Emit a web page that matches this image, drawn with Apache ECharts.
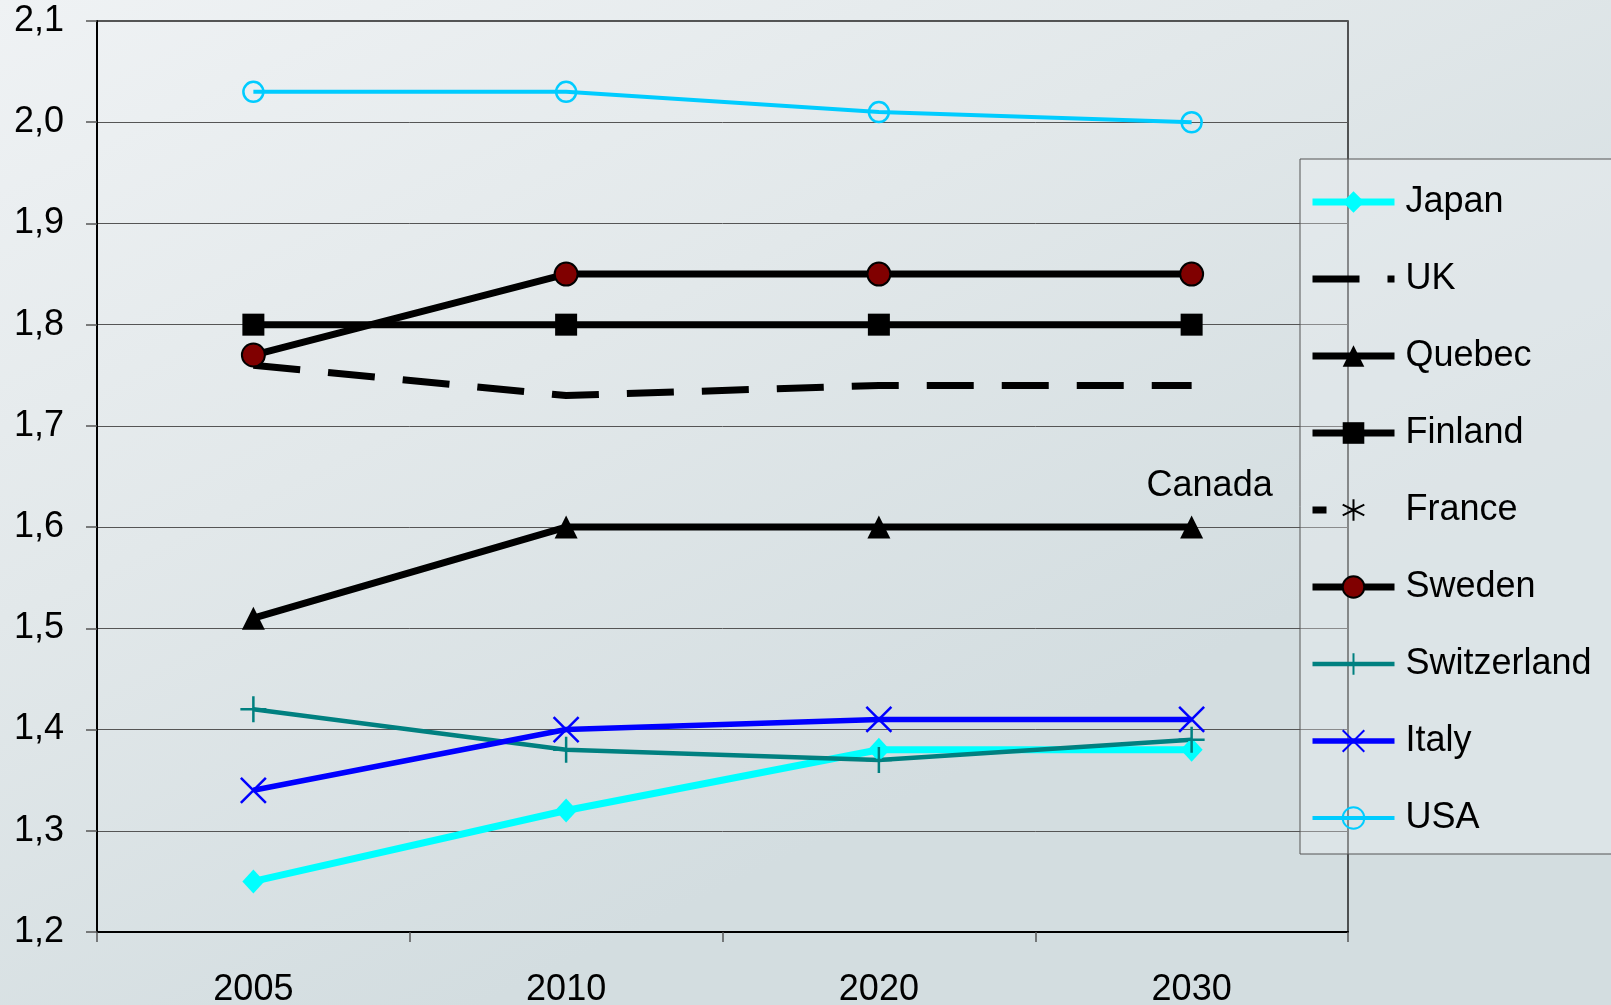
<!DOCTYPE html>
<html>
<head>
<meta charset="utf-8">
<script src="https://cdn.jsdelivr.net/npm/echarts@6/dist/echarts.min.js"></script>
<style>
html,body{margin:0;padding:0;}
#c{width:1611px;height:1005px;}
</style>
</head>
<body>
<div id="c"></div>
<script>
const years = ['2005', '2010', '2020', '2030'];
const japan = [1.25, 1.32, 1.38, 1.38];
const uk = [1.76, 1.73, 1.74, 1.74];
const quebec = [1.51, 1.60, 1.60, 1.60];
const finland = [1.80, 1.80, 1.80, 1.80];
const france = [null, null, null, null];
const sweden = [1.77, 1.85, 1.85, 1.85];
const switzerland = [1.42, 1.38, 1.37, 1.39];
const italy = [1.34, 1.40, 1.41, 1.41];
const usa = [2.03, 2.03, 2.01, 2.00];
const annotationText = 'Canada';

const FONT = 'Liberation Sans, Arial, sans-serif';
const PLUS = 'path://M0,-1L0,1M-1,0L1,0';
const CROSS = 'path://M-1,-1L1,1M-1,1L1,-1';
const STAR = 'path://M0,-1L0,1M-0.87,-0.5L0.87,0.5M-0.87,0.5L0.87,-0.5';

const chart = echarts.init(document.getElementById('c'), null, {renderer: 'canvas'});

const quebecData = quebec.map((v, i) => i === quebec.length - 1 ? {
  value: v,
  label: {show: true, formatter: annotationText, position: 'inside', offset: [18, -41],
          fontSize: 36, color: '#000', fontFamily: FONT}
} : v);

chart.setOption({
  animation: false,
  backgroundColor: {
    type: 'linear', x: 0, y: 0, x2: 0.3, y2: 1,
    colorStops: [{offset: 0, color: '#eff2f4'}, {offset: 0.5, color: '#e2e8ea'}, {offset: 1, color: '#d3dde0'}]
  },
  textStyle: {fontFamily: FONT},
  grid: {left: 97, right: 263, top: 21, bottom: 73, outerBoundsMode: 'none', containLabel: false,
         show: true, borderColor: '#222', borderWidth: 1.5, backgroundColor: 'transparent'},
  legend: {
    orient: 'vertical', left: 1300, top: 159,
    itemWidth: 82, itemHeight: 27, itemGap: 37,
    padding: [23, 22, 16, 9],
    backgroundColor: 'rgba(238,242,244,0.35)', borderColor: '#555', borderWidth: 1,
    lineStyle: {width: 'inherit'},
    textStyle: {fontSize: 36, color: '#000', fontFamily: FONT, lineHeight: 40, padding: [0, 0, 0, 6]}
  },
  xAxis: {
    type: 'category', data: years, boundaryGap: true,
    axisLine: {lineStyle: {color: '#000', width: 2}},
    axisTick: {show: true, length: 10, lineStyle: {color: '#555', width: 1.5}},
    axisLabel: {fontSize: 36, color: '#000', margin: 40, fontFamily: FONT},
    splitLine: {show: false}
  },
  yAxis: {
    type: 'value', min: 1.2, max: 2.1, interval: 0.1,
    axisLine: {show: true, lineStyle: {color: '#000', width: 2}},
    axisTick: {show: true, length: 11, lineStyle: {color: '#555', width: 1.5}},
    axisLabel: {fontSize: 36, color: '#000', margin: 33, fontFamily: FONT,
                formatter: v => v.toFixed(1).replace('.', ',')},
    splitLine: {show: true, lineStyle: {color: '#555', width: 1}}
  },
  series: [
    {name: 'Japan', type: 'line', data: japan, symbol: 'diamond', symbolSize: [22, 24],
     lineStyle: {color: '#00FFFF', width: 7}, itemStyle: {color: '#00FFFF'}},
    {name: 'UK', type: 'line', data: uk, symbol: 'circle', showSymbol: false, symbolSize: 0,
     lineStyle: {color: '#000', width: 7, type: [47, 28]},
     itemStyle: {color: 'rgba(0,0,0,0)', borderColor: 'rgba(0,0,0,0)', borderWidth: 0}},
    {name: 'Quebec', type: 'line', data: quebecData, symbol: 'triangle', symbolSize: 23,
     lineStyle: {color: '#000', width: 7}, itemStyle: {color: '#000'}},
    {name: 'Finland', type: 'line', data: finland, symbol: 'rect', symbolSize: 22,
     lineStyle: {color: '#000', width: 7}, itemStyle: {color: '#000'}},
    {name: 'France', type: 'line', data: france, symbol: STAR, symbolSize: 24,
     lineStyle: {color: '#000', width: 7, type: [14, 68]},
     itemStyle: {color: 'rgba(0,0,0,0)', borderColor: '#000', borderWidth: 2.5}},
    {name: 'Sweden', type: 'line', data: sweden, symbol: 'circle', symbolSize: 23,
     lineStyle: {color: '#000', width: 7}, itemStyle: {color: '#800000', borderColor: '#000', borderWidth: 2}},
    {name: 'Switzerland', type: 'line', data: switzerland, symbol: PLUS, symbolSize: 26,
     lineStyle: {color: '#008080', width: 4.5}, itemStyle: {color: 'rgba(0,0,0,0)', borderColor: '#008080', borderWidth: 2.5}},
    {name: 'Italy', type: 'line', data: italy, symbol: CROSS, symbolSize: 25,
     lineStyle: {color: '#0000FF', width: 5.5}, itemStyle: {color: 'rgba(0,0,0,0)', borderColor: '#0000FF', borderWidth: 2.5}},
    {name: 'USA', type: 'line', data: usa, symbol: 'circle', symbolSize: 20,
     lineStyle: {color: '#00CCFF', width: 4}, itemStyle: {color: 'rgba(0,0,0,0)', borderColor: '#00CCFF', borderWidth: 2.5}}
  ]
});
</script>
</body>
</html>
